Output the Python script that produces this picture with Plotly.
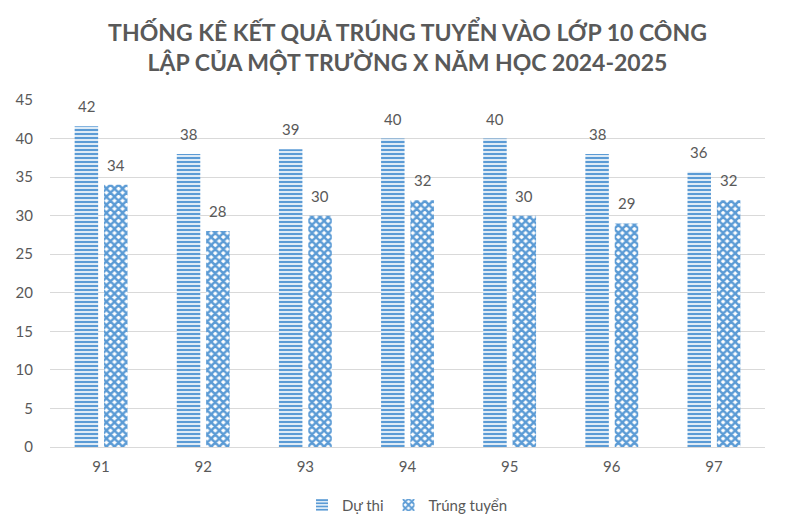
import plotly.graph_objects as go

# Dữ liệu
lop = ["91", "92", "93", "94", "95", "96", "97"]
du_thi = [41.6, 38, 38.6, 40, 40, 38, 35.7]
trung_tuyen = [34, 28, 30, 32, 30, 29, 32]
y_ticks = [0, 5, 10, 15, 20, 25, 30, 35, 40, 45]

BLUE = "#5B9BD5"
GREY = "#595959"
FONT = "Lato, Open Sans, sans-serif"

fig = go.Figure()
fig.add_trace(go.Bar(
    x=lop,
    y=du_thi,
    name="Dự thi",
    marker=dict(
        color=BLUE,
        line=dict(width=0),
        pattern=dict(shape="-", size=4, solidity=0.6, fgcolor=BLUE, bgcolor="white", fillmode="replace"),
    ),
))
fig.add_trace(go.Bar(
    x=lop,
    y=trung_tuyen,
    name="Trúng tuyển",
    marker=dict(
        color=BLUE,
        line=dict(width=0),
        pattern=dict(shape="x", size=5.7, solidity=0.66, fgcolor=BLUE, bgcolor="white", fillmode="replace"),
    ),
))

# nhãn dữ liệu đặt cao hơn đỉnh cột một chút (như Excel)
# trục category: annotation dùng số thứ tự của nhóm
for series, dx in ((du_thi, -14.5), (trung_tuyen, 14.5)):
    for i, v in enumerate(series):
        fig.add_annotation(
            x=i, y=v, text=f"{v:.0f}",
            showarrow=False, yanchor="bottom", xshift=dx, yshift=9,
            font=dict(size=15, color=GREY, family=FONT),
        )

fig.update_layout(
    width=781,
    height=523,
    margin=dict(l=42, r=24, t=92, b=84, autoexpand=False),
    paper_bgcolor="white",
    plot_bgcolor="white",
    barmode="group",
    bargap=0.425,
    bargroupgap=0.2,
    font=dict(family=FONT, color=GREY, size=15),
    title=dict(
        text="THỐNG KÊ KẾT QUẢ TRÚNG TUYỂN VÀO LỚP 10 CÔNG<br>LẬP CỦA MỘT TRƯỜNG X NĂM HỌC 2024-2025",
        x=0.5,
        xref="paper",
        xanchor="center",
        y=0.936,
        yref="container",
        yanchor="top",
        font=dict(family=FONT, size=23, color=GREY, weight="bold"),
    ),
    legend=dict(
        orientation="h",
        x=0.5,
        xanchor="center",
        y=-0.12,
        yanchor="top",
        font=dict(size=15, color=GREY),
        itemwidth=30,
    ),
    xaxis=dict(
        type="category",
        showgrid=False,
        showline=True,
        linecolor="#D9D9D9",
        ticks="",
        ticklabelstandoff=6,
        tickfont=dict(size=15, color=GREY),
    ),
    yaxis=dict(
        range=[0, 45],
        tickvals=y_ticks,
        showgrid=True,
        gridcolor="#D9D9D9",
        zeroline=False,
        showline=False,
        ticks="",
        ticklabelstandoff=16,
        tickfont=dict(size=15, color=GREY),
    ),
)

fig.write_html("out.html")
